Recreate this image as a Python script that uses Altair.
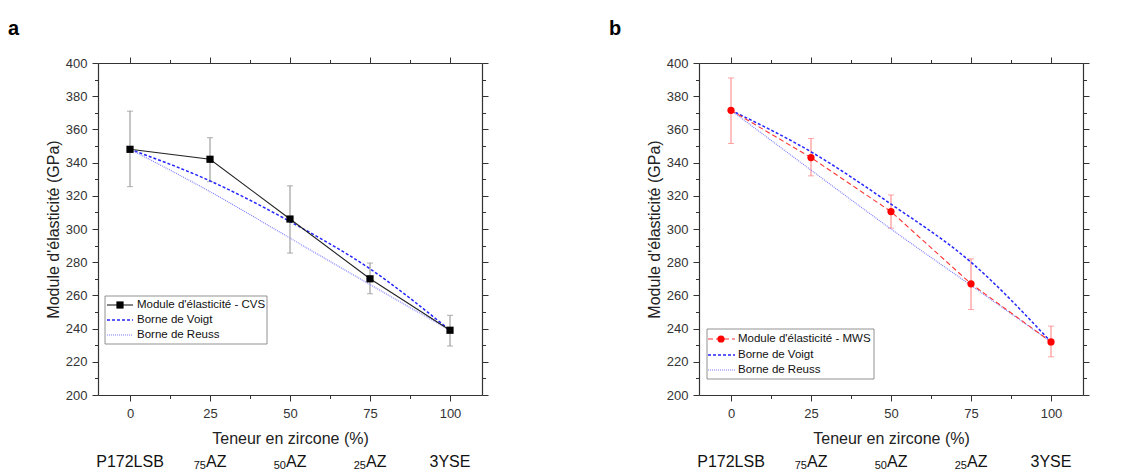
import altair as alt
import pandas as pd

# ---------------- data ----------------
x_pct = [0, 25, 50, 75, 100]
label_main = ["P172LSB", "AZ", "AZ", "AZ", "3YSE"]
label_sub = ["", "75", "50", "25", ""]

cvs_mean = [348, 342, 306, 270, 239]
cvs_low = [325.5, 328.5, 285.5, 261, 229.5]
cvs_high = [371, 355, 326, 279.5, 248]
voigt_a = [348, 329, 304.5, 276, 239]
reuss_a = [348, 322.5, 294.5, 266.5, 239]

mws_mean = [371.5, 343, 310.5, 267, 232]
mws_low = [351.5, 332, 300.5, 251.5, 223]
mws_high = [391, 354.5, 320.5, 282, 241.5]
voigt_b = [371.5, 346.5, 315, 280, 232]
reuss_b = [371.5, 335.5, 300, 266, 232]

x_major = [0, 25, 50, 75, 100]
x_minor = [12.5, 37.5, 62.5, 87.5]
y_major = [200, 220, 240, 260, 280, 300, 320, 340, 360, 380, 400]
y_minor = [210, 230, 250, 270, 290, 310, 330, 350, 370, 390]

# ---------------- style ----------------
FONT = "Liberation Sans"
W, H = 384, 332
AXC = "#333333"
VOIGT_C = "#2626ff"
REUSS_C = "#7a7aff"


def xs():
    return alt.Scale(domain=[-10, 110], nice=False, zero=False)


def ys():
    return alt.Scale(domain=[200, 400], nice=False, zero=False)


def ax(orient, values, major, labels=False, title=None):
    kw = dict(orient=orient, values=values, grid=False, ticks=True,
              tickSize=6 if major else 3.5, tickColor=AXC, tickWidth=1,
              domain=major, domainColor=AXC, domainWidth=1.2,
              labels=labels, labelFont=FONT, labelFontSize=13, labelColor="#333333",
              labelOverlap=False,
              titleFont=FONT, titleFontSize=16, titleFontWeight="normal", titleColor="#222222")
    kw["title"] = title if title else None
    if orient == "bottom":
        kw["labelPadding"] = 6
        kw["titlePadding"] = 10
    if orient == "left":
        kw["labelPadding"] = 5
        kw["titlePadding"] = 4
    return alt.Axis(**kw)


def panel(letter, mean, low, high, voigt, reuss, color, line_color, err_color, shape,
          line_dash, legend_label, lg):
    df = pd.DataFrame({"x": x_pct, "mean": mean, "low": low, "high": high,
                       "voigt": voigt, "reuss": reuss,
                       "main": label_main, "sub": label_sub})
    base = alt.Chart(df)

    err = base.mark_rule(color=err_color, strokeWidth=1).encode(
        x=alt.X("x:Q", scale=xs(), axis=ax("bottom", x_major, True, True, "Teneur en zircone (%)")),
        y=alt.Y("low:Q", scale=ys(), axis=ax("left", y_major, True, True, "Module d'élasticité (GPa)")),
        y2="high:Q")
    cap_hi = base.mark_tick(orient="horizontal", size=6, thickness=1, color=err_color).encode(
        x=alt.X("x:Q", scale=xs(), axis=ax("bottom", x_minor, False)),
        y=alt.Y("high:Q", scale=ys(), axis=ax("left", y_minor, False)))
    cap_lo = base.mark_tick(orient="horizontal", size=6, thickness=1, color=err_color).encode(
        x=alt.X("x:Q", scale=xs(), axis=ax("top", x_major, True)),
        y=alt.Y("low:Q", scale=ys(), axis=ax("right", y_major, True)))
    vline = base.mark_line(color=VOIGT_C, strokeWidth=1.5, strokeDash=[3, 2],
                           interpolate="monotone").encode(
        x=alt.X("x:Q", scale=xs(), axis=ax("top", x_minor, False)),
        y=alt.Y("voigt:Q", scale=ys(), axis=ax("right", y_minor, False)))
    rline = base.mark_line(color=REUSS_C, strokeWidth=1.1, strokeDash=[1, 1],
                           interpolate="monotone").encode(
        x=alt.X("x:Q", scale=xs(), axis=None),
        y=alt.Y("reuss:Q", scale=ys(), axis=None))
    line_kw = dict(color=line_color, strokeWidth=1.1)
    if line_dash:
        line_kw["strokeDash"] = line_dash
    mline = base.mark_line(**line_kw).encode(
        x=alt.X("x:Q", scale=xs(), axis=None),
        y=alt.Y("mean:Q", scale=ys(), axis=None))
    pts = base.mark_point(shape=shape, filled=True, size=52, color=color, opacity=1).encode(
        x=alt.X("x:Q", scale=xs(), axis=None),
        y=alt.Y("mean:Q", scale=ys(), axis=None))

    # category labels under the axis
    plain = base.transform_filter("datum.sub == ''").mark_text(
        font=FONT, fontSize=16, color="#111111", align="center", baseline="alphabetic").encode(
        x=alt.X("x:Q", scale=xs(), axis=None), y=alt.value(H + 72), text="main:N")
    az = base.transform_filter("datum.sub != ''").mark_text(
        font=FONT, fontSize=16, color="#111111", align="left", baseline="alphabetic", dx=-4).encode(
        x=alt.X("x:Q", scale=xs(), axis=None), y=alt.value(H + 72), text="main:N")
    sub = base.transform_filter("datum.sub != ''").mark_text(
        font=FONT, fontSize=11, color="#111111", align="right", baseline="alphabetic", dx=-4).encode(
        x=alt.X("x:Q", scale=xs(), axis=None), y=alt.value(H + 74), text="sub:N")

    # legend (annotation)
    one = alt.Chart(pd.DataFrame({"k": [0]}))
    bx0, bx1, by0, by1, e1, e2, e3, sx0, sx1, sxm, tx = lg
    box = one.mark_rect(fill="white", stroke="#777777", strokeWidth=0.8).encode(
        x=alt.value(bx0), x2=alt.value(bx1), y=alt.value(by0), y2=alt.value(by1))
    l1 = one.mark_rule(**line_kw).encode(x=alt.value(sx0), x2=alt.value(sx1), y=alt.value(e1))
    m1 = one.mark_point(shape=shape, filled=True, size=52, color=color, opacity=1).encode(
        x=alt.value(sxm), y=alt.value(e1))
    l2 = one.mark_rule(color=VOIGT_C, strokeWidth=1.5, strokeDash=[3, 2]).encode(
        x=alt.value(sx0), x2=alt.value(sx1), y=alt.value(e2))
    l3 = one.mark_rule(color=REUSS_C, strokeWidth=1.1, strokeDash=[1, 1]).encode(
        x=alt.value(sx0), x2=alt.value(sx1), y=alt.value(e3))
    tkw = dict(font=FONT, fontSize=11.5, color="#111111", align="left", baseline="middle")
    t1 = one.mark_text(text=legend_label, **tkw).encode(x=alt.value(tx), y=alt.value(e1))
    t2 = one.mark_text(text="Borne de Voigt", **tkw).encode(x=alt.value(tx), y=alt.value(e2))
    t3 = one.mark_text(text="Borne de Reuss", **tkw).encode(x=alt.value(tx), y=alt.value(e3))

    return alt.layer(err, cap_hi, cap_lo, vline, rline, mline, pts, plain, az, sub,
                     box, l1, m1, l2, l3, t1, t2, t3).resolve_axis(
        x="independent", y="independent").properties(
        width=W, height=H,
        title=alt.TitleParams(letter, anchor="start", frame="group", dx=-90, fontSize=20,
                              fontWeight="bold", font=FONT, color="#000000", offset=18))


pa = panel("a", cvs_mean, cvs_low, cvs_high, voigt_a, reuss_a, "#000000", "#222222", "#8c8c8c",
           "square", None, "Module d'élasticité - CVS",
           (7, 169, 233, 281, 242, 257, 272, 9, 35, 22, 39))
pb = panel("b", mws_mean, mws_low, mws_high, voigt_b, reuss_b, "#ff0000", "#ff3333", "#ff8080",
           "circle", [5, 3], "Module d'élasticité - MWS",
           (8, 175, 266, 316, 276, 292, 307, 9, 36, 22, 39))

chart = alt.hconcat(pa, pb, spacing=120).configure_view(stroke=None).properties(
    padding={"left": 0, "top": 10, "right": 0, "bottom": 0})

chart.save("out.html", embed_options={"renderer": "svg", "actions": False})
